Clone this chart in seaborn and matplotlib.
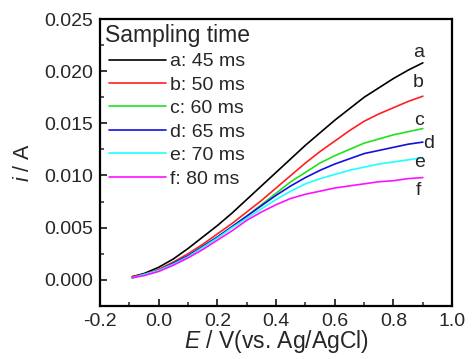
import matplotlib
matplotlib.use("Agg")
import matplotlib.pyplot as plt
import pandas as pd
import seaborn as sns
from matplotlib.ticker import MultipleLocator

potential = [-0.09, -0.05, 0.0, 0.05, 0.1, 0.15, 0.2, 0.25, 0.3, 0.35, 0.4,
             0.45, 0.5, 0.55, 0.6, 0.65, 0.7, 0.75, 0.8, 0.85, 0.9]
curves = {
    "a: 45 ms": [0.0003, 0.0006, 0.0012, 0.0020, 0.0030, 0.0041, 0.0052, 0.0064, 0.0077, 0.0090, 0.0103,
                 0.0116, 0.0129, 0.0141, 0.0153, 0.0164, 0.0175, 0.0184, 0.0193, 0.0201, 0.0208],
    "b: 50 ms": [0.0003, 0.0005, 0.0010, 0.0017, 0.0025, 0.0034, 0.0044, 0.0054, 0.0065, 0.0076, 0.0088,
                 0.0100, 0.0112, 0.0123, 0.0133, 0.0143, 0.0152, 0.0159, 0.0165, 0.0171, 0.0176],
    "c: 60 ms": [0.0002, 0.0005, 0.0009, 0.0016, 0.0023, 0.0032, 0.0041, 0.0051, 0.0061, 0.0072, 0.0083,
                 0.0094, 0.0103, 0.0112, 0.0119, 0.0125, 0.0131, 0.0135, 0.0139, 0.0142, 0.0145],
    "d: 65 ms": [0.0002, 0.0005, 0.0009, 0.0016, 0.0023, 0.0032, 0.0041, 0.0051, 0.0061, 0.0071, 0.0081,
                 0.0090, 0.0098, 0.0105, 0.0111, 0.0116, 0.0121, 0.0124, 0.0127, 0.0130, 0.0132],
    "e: 70 ms": [0.0002, 0.0005, 0.0009, 0.0015, 0.0022, 0.0031, 0.0040, 0.0050, 0.0059, 0.0068, 0.0077,
                 0.0085, 0.0092, 0.0097, 0.0101, 0.0105, 0.0108, 0.0111, 0.0113, 0.0115, 0.0117],
    "f: 80 ms": [0.0002, 0.0004, 0.0008, 0.0014, 0.0021, 0.0029, 0.0038, 0.0047, 0.0057, 0.0065, 0.0072,
                 0.0078, 0.0082, 0.0085, 0.0088, 0.0090, 0.0092, 0.0094, 0.0095, 0.0097, 0.0098],
}
letters = ["a", "b", "c", "d", "e", "f"]
letter_pos = [(0.884, 0.0218), (0.884, 0.0189), (0.886, 0.0153), (0.918, 0.0131), (0.89, 0.0112), (0.886, 0.0086)]
colors = ["#000000", "#ff2020", "#20e020", "#1010e0", "#20ffff", "#ff10ff"]

rows = []
for name, vals in curves.items():
    for e, i in zip(potential, vals):
        rows.append({"E": e, "i": i, "time": name})
df = pd.DataFrame(rows)

sns.set_theme(style="ticks")
plt.rcParams["font.family"] = ["Liberation Sans", "DejaVu Sans"]
plt.rcParams["mathtext.fontset"] = "custom"
plt.rcParams["mathtext.it"] = "Liberation Sans:italic"
plt.rcParams["mathtext.rm"] = "Liberation Sans"

fig = plt.figure(figsize=(4.74, 3.59), dpi=100)
ax = fig.add_axes([0.211, 0.148, 0.743, 0.799])

sns.lineplot(data=df, x="E", y="i", hue="time", palette=colors, linewidth=1.2, ax=ax)

for letter, (x, y) in zip(letters, letter_pos):
    ax.text(x, y, letter, fontsize=14, ha="center", va="center")

ax.set_xlim(-0.2, 1.0)
ax.set_ylim(-0.0025, 0.025)
ax.xaxis.set_major_locator(MultipleLocator(0.2))
ax.xaxis.set_minor_locator(MultipleLocator(0.1))
ax.yaxis.set_major_locator(MultipleLocator(0.005))
ax.yaxis.set_minor_locator(MultipleLocator(0.0025))
ax.xaxis.set_major_formatter(plt.FuncFormatter(lambda v, p: f"{v:.1f}"))
ax.yaxis.set_major_formatter(plt.FuncFormatter(lambda v, p: f"{v:.3f}"))
ax.tick_params(which="major", direction="in", length=5, width=1.3, labelsize=14, pad=5)
ax.tick_params(which="minor", direction="in", length=3, width=1.1)
for s in ax.spines.values():
    s.set_linewidth(1.6)
    s.set_color("black")

ax.set_xlabel(r"$\mathit{E}$ / V(vs. Ag/AgCl)", fontsize=16.5, labelpad=-1)
ax.set_ylabel(r"$\mathit{i}$ / A", fontsize=15.5, labelpad=7)

ax.legend(title="Sampling time", loc="upper left", frameon=False, fontsize=14,
          title_fontsize=16.5, handlelength=2.9, handletextpad=0.25, labelspacing=0.3,
          borderaxespad=0.1, borderpad=0.15)

plt.savefig("out.png", dpi=100)
